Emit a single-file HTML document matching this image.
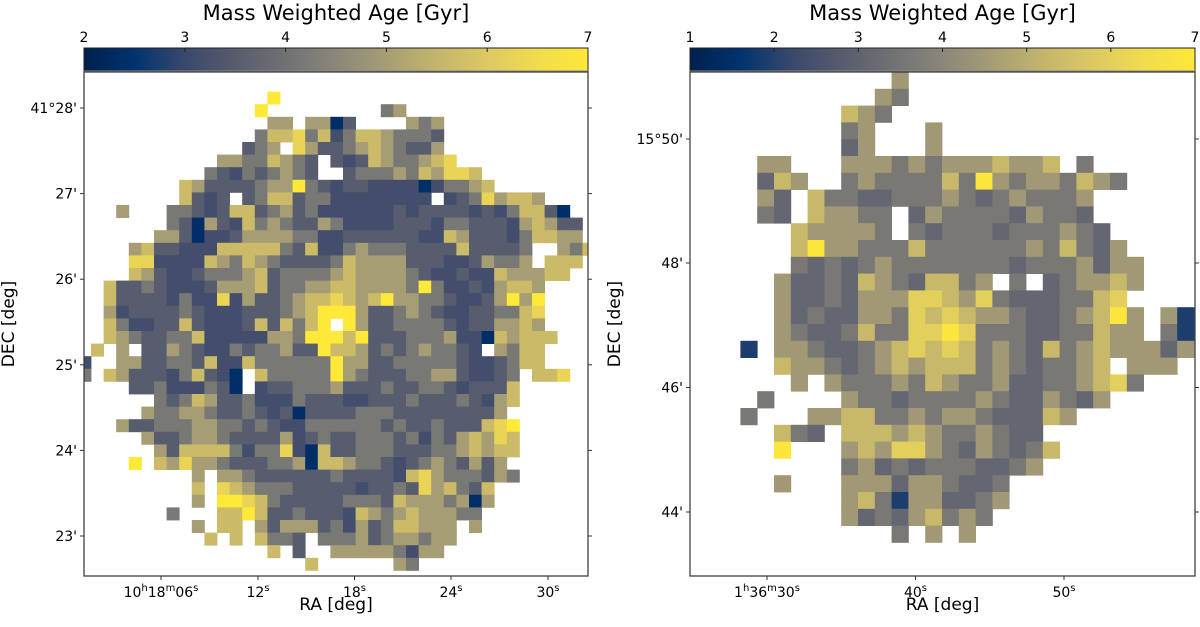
<!DOCTYPE html>
<html><head><meta charset="utf-8">
<style>
html,body{margin:0;padding:0;background:#fff;}
svg{display:block;font-family:"DejaVu Sans","Liberation Sans",sans-serif;}
</style></head>
<body>
<svg id="fig" width="1200" height="627" viewBox="0 0 1200 627" xmlns="http://www.w3.org/2000/svg">
<defs>
<linearGradient id="cividis" x1="0" x2="1" y1="0" y2="0">
<stop offset="0" stop-color="#00204d"/><stop offset="0.1" stop-color="#00336f"/><stop offset="0.2" stop-color="#39486b"/>
<stop offset="0.3" stop-color="#575c6e"/><stop offset="0.4" stop-color="#707173"/><stop offset="0.5" stop-color="#8a8779"/>
<stop offset="0.6" stop-color="#a69d75"/><stop offset="0.7" stop-color="#c4b56c"/><stop offset="0.8" stop-color="#dcc962"/>
<stop offset="0.9" stop-color="#f1dc4d"/><stop offset="1" stop-color="#fee838"/>
</linearGradient>
<clipPath id="clipL"><rect x="84" y="72" width="504" height="504"/></clipPath>
<clipPath id="clipR"><rect x="690" y="72" width="505" height="504"/></clipPath>
</defs>
<g id="left"></g>
<g id="right"></g>
</svg>
<script>
// ---------- data ----------
const leftAgeRange = [2, 7];
const rightAgeRange = [1, 7];
const leftColorbarTicks = [2, 3, 4, 5, 6, 7];
const rightColorbarTicks = [1, 2, 3, 4, 5, 6, 7];
const leftCharAge = {B:2.4, N:3.15, S:3.5, G:4.15, T:5.0, K:5.65, L:6.3, Y:7.0};
const rightCharAge = {B:1.9, S:3.1, G:3.6, T:4.5, K:5.3, L:6.0, Y:6.9};
// rows: [rowIndex, startCol, cells]
const leftRows = [
[2,15,"Y"],[3,14,"Y.........GT"],[4,15,"TT.TTBS....TGT"],[5,14,"GKKLGKNGKKTGGGS"],
[6,13,"SGT.LTSSGTKTGSST"],[7,11,"TTGGKTGS.SNSKTGGTKL"],[8,10,"GSNGSGTGS..SGGGTGKTLLK"],
[9,8,"KTSSSSGTTYGSNSSNNNNBNGGTK"],[10,8,"KSNS.SGKKSGGNNNNNNNN.NSGLTKKT"],
[11,3,"T...GGSNSKKSGTSGNNNNNNSNSSSSNSNGKKSB"],[12,7,"GSBTSNKGTGSSTGNNNNSSSNGGSSSNTKTSS"],
[13,6,"TTSBNNSTTTTGGNNSSSSSSNNKTSSSNGKKTT"],[14,4,"TKSSNNNKKKKKGSKNNGTGGGSSSSKSSSSG..TGK"],
[15,4,"LLNNNNKTGKTGSSSSGKTTTTSSSNNSTGGT.KKK"],[16,4,"KTSNNSGGGTKSGGGGTKTTTTGSNNSNNKTTTKK"],
[17,2,"KSSGSNNNSTTTKSGGTTKKTTTTGYGNNSNTKKT"],[18,2,"KSSSSNGNNLNTSSGTKKLKTKYTTGGSNNSTYTY"],
[19,2,"TNSSSSGSNNNSSSGTKYYYTSSGTGSNNSSGGKL"],[20,2,"KGNNSSKSNNNSKSKGKY.YTSSGGGGSNSSTTKT"],
[21,2,"KTGSSGGKNNNNNTTGYYYKYSSSGGGTNNBKTKKK"],[22,1,"K.T.SSTGSNNGSGGTSSYKKTSGSGTGGSN.TGKK"],
[23,0,"N..TTSSGGSKNNKGGGGGGYTTSSGGGGGSNNSGKK"],[24,0,"G.KTSSSNGKSNB.KGGGGGYTGSSSGGTTSNNSG.KKL"],
[25,4,"SSGNNNGSB.NSSGGGTSSSGSSGGSNSSSK"],[26,6,"GSGKTSSGNNNGSSSNNSSSGSSSGSNTK"],
[27,5,"TGGTTGSSGSNSBSSSSGGGSSSSSSSST"],[28,3,"TSSGGGTTGGSGSNNGGGGGGSGSSGSSSKLY"],
[29,5,"TSSGTTGSSSSTNSGSSGGGSGNGSTKTLK"],[30,6,"TSKKKKGNGGLNBKSSGGGSSSGGTKTKK"],
[31,4,"Y.KTLTTGSSSGGTBKKTGGSNSGTGSTST"],[32,9,"T.TTGSSSSSSGSSSSNKLTGGGSTG"],
[33,9,"K.LKTGGGSSSSSNSSGSLTKGSK"],[34,9,"T.YYLKGSSSSSGGGSKTTTGTBT"],
[35,7,"G...KKYKSSGSSSNKTGTKTTTGG"],[36,9,"T.KK.TSTTTSGNTSGKKTTT.T"],
[37,10,"K.K.KGGS.GGGTSGTTGTT"],[38,15,"K.S..TTTTTGNTT"],[39,18,"K......TG"]
];
const rightRows = [
[0,12,"T"],[1,11,"TG"],[2,9,"KTG"],[3,9,"GT...T"],[4,9,"ST...T"],
[5,4,"TT...TTTGTGTTTKTTK.G"],[6,4,"SKT..GTGGGGKGYTGTTGKTG"],[7,4,"TS.KGGSSGGGTGSGTGGGT"],
[8,4,"GS.KTTGG.STGGGGSTGGS"],[9,6,"KTTTTG.GSGGGSGGGTGS"],[10,6,"KYTTGGGKGGGGGGTGKGST"],
[11,6,"GSGSGTGGGGGGGSGGGTSTT"],[12,5,"TSSGSKTGSKKGT.G.SGTTKT"],[13,5,"TSSGSTTTLLKTLGSSSGGKL"],
[14,5,"TSGSSTTGLKLKTTGSSGTKYT.TB"],[15,5,"TGSSGKGGLLYLGGGSSGGKTT.GB"],[16,3,"B.TTGSSGTKLKLKGTGSKGTKTTTST"],
[17,5,"KTTGSGTKTKKKGTGSGGTK.TTT"],[18,6,"T.TGGGTGKTGGTSSGGTKLG"],[19,4,"G....TGGSGGGGTGSSTGST"],
[20,3,"G...TTKKGGTGTTGSSSKT"],[21,5,"KGS.KKKTKTGGTGSS"],[22,5,"Y...TKTLLTGSTGSGK"],
[23,9,"GTSGSGGGSSGT"],[24,5,"T...TTTSTTGSSG"],[25,9,"TKGBTTSSGT"],[26,9,"TSGSTKGTG"],[27,12,"G.T.T"]
];
// ---------- colormap ----------
const cmapStops = ["#00204d","#00336f","#39486b","#575c6e","#707173","#8a8779","#a69d75","#c4b56c","#dcc962","#f1dc4d","#fee838"];
function hex(h){return [1,3,5].map(i=>parseInt(h.substr(i,2),16));}
function cividis(t){
  t=Math.max(0,Math.min(1,t));const p=t*10;const i=Math.min(9,Math.floor(p));const f=p-i;
  const a=hex(cmapStops[i]),b=hex(cmapStops[i+1]);
  return "rgb("+a.map((v,k)=>Math.round(v+(b[k]-v)*f)).join(",")+")";
}
const NS="http://www.w3.org/2000/svg";
function mk(tag,attrs,parent,text){const e=document.createElementNS(NS,tag);for(const k in attrs)e.setAttribute(k,attrs[k]);if(text!==undefined)e.textContent=text;parent.appendChild(e);return e;}
// label parts: array of [text, isSuperscript]
function fillLabel(el,parts){
  let prevSup=false;
  parts.forEach(([s,sup],i)=>{
    const a={};
    if(sup&&!prevSup)a.dy="-6";
    if(!sup&&prevSup)a.dy="6";
    if(sup)a["font-size"]="10";
    mk("tspan",a,el,s);
    prevSup=sup;
  });
}

function panel(g,cfg){
  const {x0,y0,w,h,range,ticks,rows,charAge,gx,gy,cell,clip,yTicks,xTicks}=cfg;
  const t=mk("text",{x:x0+w/2,y:20,"text-anchor":"middle","font-size":"21"},g,"Mass Weighted Age [Gyr]");
  
  
  const cb=mk("rect",{x:x0,y:48,width:w,height:23,fill:"url(#cividis)",stroke:"#222","stroke-width":"1"},g);
  
  
  mk("rect",{x:x0,y:70.5,width:w,height:2,fill:"#8a8a8a"},g);
  const cx=v=>x0+(v-range[0])/(range[1]-range[0])*w;
  ticks.forEach(v=>{
    mk("line",{x1:cx(v),x2:cx(v),y1:48,y2:52,stroke:"#222","stroke-width":"1"},g);
    const tl=mk("text",{x:cx(v),y:42,"text-anchor":"middle","font-size":"14"},g,String(v));
    
    
  });
  const cg=mk("g",{"clip-path":"url(#"+clip+")"},g);
  
  
  const colX=c=>gx+c*cell, rowY=r=>gy+r*cell;
  rows.forEach(([r,c0,s])=>{
    for(let i=0;i<s.length;i++){
      const ch=s[i]; if(ch===".")continue;
      const age=charAge[ch];
      const rc=mk("rect",{x:colX(c0+i),y:rowY(r),width:cell+0.4,height:cell+0.4,fill:cividis((age-range[0])/(range[1]-range[0]))},cg);
      
      
    }
  });
  const fr=mk("rect",{x:x0,y:y0,width:w,height:h,fill:"none",stroke:"#333","stroke-width":"1.2"},g);
  
  
  yTicks.forEach(([y,label])=>{
    mk("line",{x1:x0-4,x2:x0,y1:y,y2:y,stroke:"#333"},g);
    mk("line",{x1:x0+w,x2:x0+w+4,y1:y,y2:y,stroke:"#333"},g);
    const tl=mk("text",{x:x0-7,y:y+5,"text-anchor":"end","font-size":"14"},g,label);
    
    
  });
  xTicks.forEach(([x,parts])=>{
    mk("line",{x1:x,x2:x,y1:y0+h,y2:y0+h+4,stroke:"#333"},g);
    const tl=mk("text",{x:x,y:y0+h+21,"text-anchor":"middle","font-size":"14"},g);
    fillLabel(tl,parts);
    
    
  });
  const xl=mk("text",{x:x0+w/2,y:610,"text-anchor":"middle","font-size":"17"},g,"RA [deg]");
  
  
  const yx=x0-70, yy=y0+h/2;
  const yl=mk("text",{x:yx,y:yy,"text-anchor":"middle","font-size":"17",transform:"rotate(-90 "+yx+" "+yy+")"},g,"DEC [deg]");
  
  
}
panel(document.getElementById("left"),{
  x0:84,y0:72,w:504,h:504,range:leftAgeRange,ticks:leftColorbarTicks,rows:leftRows,charAge:leftCharAge,
  gx:78.4,gy:66.4,cell:12.6,clip:"clipL",
  yTicks:[[108,"41°28'"],[193.6,"27'"],[279.2,"26'"],[364.8,"25'"],[450.4,"24'"],[536,"23'"]],
  xTicks:[[161,[["10",0],["h",1],["18",0],["m",1],["06",0],["s",1]]],[258,[["12",0],["s",1]]],[354.5,[["18",0],["s",1]]],[451,[["24",0],["s",1]]],[548,[["30",0],["s",1]]]]
});
panel(document.getElementById("right"),{
  x0:690,y0:72,w:505,h:504,range:rightAgeRange,ticks:rightColorbarTicks,rows:rightRows,charAge:rightCharAge,
  gx:690,gy:72,cell:16.8,clip:"clipR",
  yTicks:[[139,"15°50'"],[263,"48'"],[387.5,"46'"],[512,"44'"]],
  xTicks:[[767,[["1",0],["h",1],["36",0],["m",1],["30",0],["s",1]]],[915.5,[["40",0],["s",1]]],[1064,[["50",0],["s",1]]]]
});
</script>
</body></html>
